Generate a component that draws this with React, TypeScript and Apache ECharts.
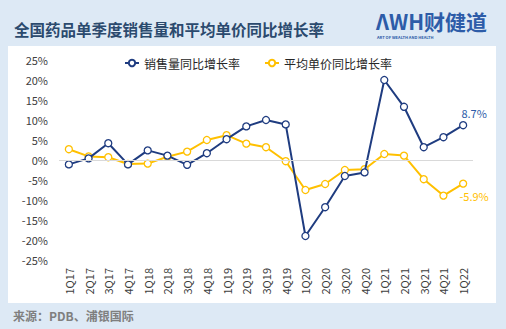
import React, { useEffect, useRef } from "react";
import * as echarts from "echarts";

const categories = [
  "1Q17", "2Q17", "3Q17", "4Q17", "1Q18", "2Q18", "3Q18", "4Q18",
  "1Q19", "2Q19", "3Q19", "4Q19", "1Q20", "2Q20", "3Q20", "4Q20",
  "1Q21", "2Q21", "3Q21", "4Q21", "1Q22",
];
const salesGrowth = [
  -1.1, 0.4, 4.2, -1.1, 2.4, 1.1, -1.2, 1.7, 5.2, 8.4, 10.0, 8.9,
  -19.0, -11.8, -4.0, -3.1, 20.0, 13.3, 3.2, 5.7, 8.7,
];
const priceGrowth = [
  2.7, 0.9, 0.7, -1.0, -0.9, 0.8, 2.1, 5.0, 6.2, 4.1, 3.2, -0.3,
  -7.5, -6.0, -2.5, -2.3, 1.5, 1.1, -4.8, -8.9, -5.9,
];
const seriesNames = ["销售量同比增长率", "平均单价同比增长率"];
const titleText = "全国药品单季度销售量和平均单价同比增长率";
const sourceText = "来源：PDB、浦银国际";

const BLUE = "#1f3c80";
const YELLOW = "#ffc000";
const FONT = "'Noto Sans CJK SC', 'Noto Sans', sans-serif";

export default function App() {
  const ref = useRef<HTMLDivElement>(null);
  useEffect(() => {
    if (!ref.current) return;
    const chart = echarts.init(ref.current, undefined, { renderer: "svg" });
    const lastIdx = categories.length - 1;
    chart.setOption({
      animation: false,
      backgroundColor: "#dde9f5",
      textStyle: { fontFamily: FONT },
      graphic: [
        {
          type: "rect",
          z: -10,
          shape: { x: 8, y: 46, width: 488, height: 257 },
          style: { fill: "#ffffff" },
          silent: true,
        },
        {
          type: "text",
          x: 14,
          y: 29,
          style: {
            text: titleText,
            fill: "#2b4a6e",
            font: `bold 15.5px ${FONT}`,
            textVerticalAlign: "middle",
          },
        },
        {
          type: "text",
          x: 376,
          y: 31,
          style: {
            text: "ΛWH财健道",
            fill: "#2d5ca8",
            font: `bold 21px ${FONT}`,
            textVerticalAlign: "bottom",
          },
        },
        {
          type: "text",
          x: 377,
          y: 35,
          style: {
            text: "ART OF WEALTH AND HEALTH",
            fill: "#2d5ca8",
            font: `bold 4px ${FONT}`,
            textVerticalAlign: "top",
          },
        },
        {
          type: "text",
          x: 13,
          y: 315,
          style: {
            text: sourceText,
            fill: "#7f7f7f",
            font: `bold 12px ${FONT}`,
            textVerticalAlign: "middle",
          },
        },
      ],
      legend: {
        left: 119,
        top: 52,
        itemGap: 24,
        itemWidth: 14,
        itemHeight: 8,
        textStyle: { fontSize: 12, color: "#262626", fontFamily: FONT },
        data: seriesNames,
      },
      grid: { left: 59, right: 33, top: 60, bottom: 69, containLabel: false },
      xAxis: {
        type: "category",
        data: categories,
        boundaryGap: true,
        axisLine: { show: false, onZero: false },
        axisTick: { show: false },
        axisLabel: {
          rotate: 90,
          interval: 0,
          margin: 8,
          fontSize: 11,
          color: "#404040",
        },
      },
      yAxis: {
        type: "value",
        min: -25,
        max: 25,
        interval: 5,
        axisLine: { show: false },
        axisTick: { show: false },
        splitLine: { show: false },
        axisLabel: {
          formatter: "{value}%",
          fontSize: 11,
          color: "#404040",
          margin: 11,
        },
      },
      series: [
        {
          name: seriesNames[0],
          type: "line",
          data: salesGrowth.map((v, i) =>
            i === lastIdx
              ? {
                  value: v,
                  label: {
                    show: true,
                    position: "top",
                    offset: [11, 2],
                    formatter: "{c}%",
                    color: "#2d5ca8",
                    fontSize: 11,
                  },
                }
              : v
          ),
          color: BLUE,
          lineStyle: { width: 2, color: BLUE },
          symbol: "circle",
          symbolSize: 7,
          itemStyle: { color: "#ffffff", borderColor: BLUE, borderWidth: 1.3 },
          z: 3,
          markLine: {
            silent: true,
            symbol: "none",
            label: { show: false },
            lineStyle: { color: "#d9d9d9", width: 1, type: "solid" },
            data: [{ yAxis: 0 }],
          },
        },
        {
          name: seriesNames[1],
          type: "line",
          data: priceGrowth.map((v, i) =>
            i === lastIdx
              ? {
                  value: v,
                  label: {
                    show: true,
                    position: "bottom",
                    offset: [11, -2],
                    formatter: "{c}%",
                    color: YELLOW,
                    fontSize: 11,
                  },
                }
              : v
          ),
          color: YELLOW,
          lineStyle: { width: 2, color: YELLOW },
          symbol: "circle",
          symbolSize: 7,
          itemStyle: { color: "#ffffff", borderColor: YELLOW, borderWidth: 1.3 },
          z: 2,
        },
      ],
    });
    return () => chart.dispose();
  }, []);
  return (
    <div
      ref={ref}
      style={{ position: "fixed", left: 0, top: 0, width: 506, height: 329 }}
    />
  );
}
